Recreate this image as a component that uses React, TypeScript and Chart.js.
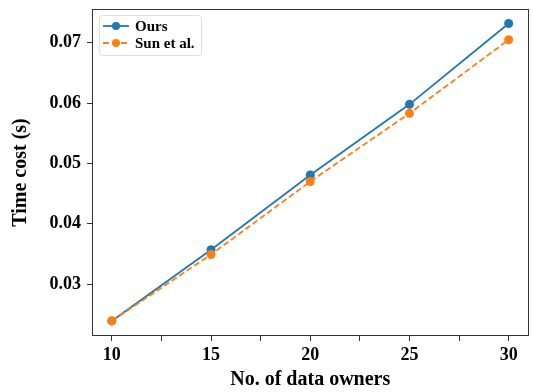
import React, { useEffect, useRef } from "react";
import { Chart, registerables } from "chart.js";

Chart.register(...registerables);

const owners = [10, 15, 20, 25, 30];
const oursTime = [0.0239, 0.0357, 0.0481, 0.0598, 0.0732];
const sunTime = [0.0239, 0.0349, 0.047, 0.0583, 0.0705];
const seriesNames = ["Ours", "Sun et al."];
const xTitle = "No. of data owners";
const yTitle = "Time cost (s)";

const BLUE = "#1f77b4";
const ORANGE = "#ff7f0e";
const FONT = "'Liberation Serif', 'Times New Roman', serif";

const framePlugin = {
  id: "frame",
  afterDraw(chart: any) {
    const { ctx, chartArea: a } = chart;
    ctx.save();
    ctx.strokeStyle = "#333";
    ctx.lineWidth = 1;
    ctx.strokeRect(Math.round(a.left) + 0.5, Math.round(a.top) + 0.5, Math.round(a.right - a.left) - 1, Math.round(a.bottom - a.top) - 1);
    ctx.restore();
  },
};

const legendPlugin = {
  id: "innerLegend",
  afterDraw(chart: any) {
    const { ctx, chartArea: a } = chart;
    const x0 = a.left + 7;
    const y0 = a.top + 6;
    const w = 102;
    const h = 40;
    ctx.save();
    ctx.fillStyle = "rgba(255,255,255,0.8)";
    ctx.strokeStyle = "#ddd";
    ctx.lineWidth = 1;
    ctx.beginPath();
    (ctx as any).roundRect(x0 + 0.5, y0 + 0.5, w, h, 3);
    ctx.fill();
    ctx.stroke();
    chart.data.datasets.forEach((ds: any, i: number) => {
      const cy = y0 + 11 + i * 17;
      ctx.strokeStyle = ds.borderColor;
      ctx.lineWidth = ds.borderWidth;
      ctx.setLineDash(ds.borderDash || []);
      ctx.beginPath();
      ctx.moveTo(x0 + 4, cy);
      ctx.lineTo(x0 + 30, cy);
      ctx.stroke();
      ctx.setLineDash([]);
      ctx.fillStyle = ds.borderColor;
      ctx.beginPath();
      ctx.arc(x0 + 17, cy, 4, 0, Math.PI * 2);
      ctx.fill();
      ctx.fillStyle = "#000";
      ctx.font = `bold 15px ${FONT}`;
      ctx.textBaseline = "middle";
      ctx.textAlign = "left";
      ctx.fillText(ds.label, x0 + 36, cy + 1);
    });
    ctx.restore();
  },
};

export default function App() {
  const ref = useRef<HTMLCanvasElement | null>(null);

  useEffect(() => {
    document.body.style.margin = "0";
    if (!ref.current) return;
    const tickFont = { family: FONT, size: 18, weight: "bold" as const };
    const titleFont = { family: FONT, size: 20, weight: "bold" as const };
    const chart = new Chart(ref.current, {
      type: "line",
      data: {
        datasets: [
          {
            label: seriesNames[0],
            data: owners.map((x, i) => ({ x, y: oursTime[i] })),
            borderColor: BLUE,
            backgroundColor: BLUE,
            borderWidth: 1.8,
            pointRadius: 4.5,
            pointBorderWidth: 0,
            pointBackgroundColor: BLUE,
            order: 1,
          },
          {
            label: seriesNames[1],
            data: owners.map((x, i) => ({ x, y: sunTime[i] })),
            borderColor: ORANGE,
            backgroundColor: ORANGE,
            borderWidth: 1.8,
            borderDash: [6, 3],
            pointRadius: 4.5,
            pointBorderWidth: 0,
            pointBackgroundColor: ORANGE,
            order: 0,
          },
        ],
      },
      options: {
        animation: false,
        responsive: false,
        maintainAspectRatio: false,
        layout: { padding: { top: 9, right: 2, left: 0, bottom: 0 } },
        plugins: { legend: { display: false }, tooltip: { enabled: false } },
        scales: {
          x: {
            type: "linear",
            min: 9,
            max: 31,
            border: { display: false },
            grid: { display: true, drawOnChartArea: false, drawTicks: true, tickLength: 5, tickColor: "#333" },
            ticks: {
              stepSize: 2.5,
              includeBounds: false,
              autoSkip: false,
              maxRotation: 0,
              color: "#000",
              font: tickFont,
              padding: 4,
              callback: (v: any) => (Number(v) % 5 === 0 ? String(v) : ""),
            },
            title: { display: true, text: xTitle, color: "#000", font: titleFont, padding: { top: 4, bottom: 0 } },
            afterFit: (s: any) => {
              s.height = 56;
              s.paddingLeft = 0;
              s.paddingRight = 0;
            },
          },
          y: {
            type: "linear",
            min: 0.0214,
            max: 0.0756,
            border: { display: false },
            grid: { display: true, drawOnChartArea: false, drawTicks: true, tickLength: 5, tickColor: "#333" },
            ticks: {
              stepSize: 0.01,
              includeBounds: false,
              color: "#000",
              font: tickFont,
              padding: 6,
              callback: (v: any) => Number(v).toFixed(2),
            },
            title: { display: true, text: yTitle, color: "#000", font: titleFont, padding: { top: 9, bottom: 0 } },
            afterFit: (s: any) => {
              s.width = 92;
              s.paddingTop = 0;
              s.paddingBottom = 0;
            },
          },
        },
      },
      plugins: [framePlugin, legendPlugin],
    });
    return () => chart.destroy();
  }, []);

  return (
    <div style={{ width: 533, height: 392, position: "relative" }}>
      <canvas ref={ref} width={533} height={392} style={{ display: "block" }} />
    </div>
  );
}
